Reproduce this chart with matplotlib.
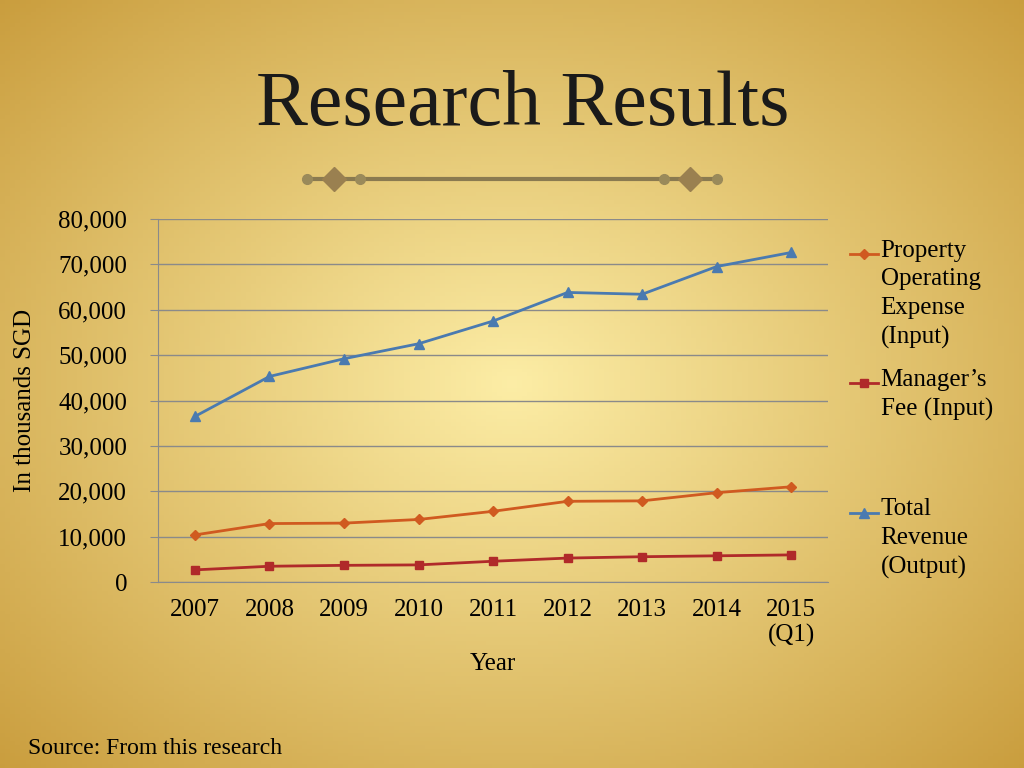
import numpy as np
import matplotlib
matplotlib.use("Agg")
import matplotlib.pyplot as plt
from matplotlib.lines import Line2D

years = ["2007", "2008", "2009", "2010", "2011", "2012", "2013", "2014", "2015\n(Q1)"]
poe = [10400, 12900, 13000, 13800, 15600, 17800, 17900, 19700, 21000]
mgr = [2700, 3500, 3700, 3800, 4600, 5300, 5600, 5800, 6000]
rev = [36500, 45300, 49200, 52500, 57500, 63800, 63400, 69500, 72600]
labels = ["Property\nOperating\nExpense\n(Input)", "Manager’s\nFee (Input)", "Total\nRevenue\n(Output)"]

plt.rcParams['font.family'] = ['Liberation Serif', 'DejaVu Serif']
fig = plt.figure(figsize=(10.24, 7.68), dpi=100)

bg = fig.add_axes([0, 0, 1, 1], zorder=-10)
yy, xx = np.mgrid[0:1:200j, 0:1:200j]
r = np.sqrt((xx - 0.5) ** 2 + (yy - 0.5) ** 2)
t = np.clip(r / 0.75, 0, 1)
c0 = np.array([0.99, 0.93, 0.65]); c1 = np.array([0.78, 0.60, 0.22])
img = c0 * (1 - t[..., None]) + c1 * t[..., None]
bg.imshow(img, extent=[0, 1, 0, 1], aspect='auto')
bg.axis('off')

fig.text(0.51, 0.862, "Research Results", ha='center', va='center', fontsize=56, color='#1a1a1a')
fig.add_artist(Line2D([0.30, 0.70], [0.767, 0.767], transform=fig.transFigure, color='#8a7a50', lw=3))
for xv in [0.30, 0.352, 0.648, 0.70]:
    fig.add_artist(Line2D([xv], [0.767], transform=fig.transFigure, marker='o', ms=7, color='#9a8a5a'))
for xv in [0.326, 0.674]:
    fig.add_artist(Line2D([xv], [0.767], transform=fig.transFigure, marker='D', ms=12, color='#9a8050'))

ax = fig.add_axes([0.154, 0.242, 0.655, 0.473])
ax.patch.set_alpha(0)
x = np.arange(len(years))
styles = [('#d05a20', 'D', 5), ('#b02a2a', 's', 6), ('#4a7ab0', '^', 7)]
for data, (c, m, ms) in zip([poe, mgr, rev], styles):
    ax.plot(x, data, color=c, marker=m, ms=ms, lw=2)
ax.set_xlim(-0.5, len(years) - 0.5)
ax.set_ylim(0, 80000)
ax.set_yticks(range(0, 80001, 10000))
ax.set_yticklabels([f"{v:,}" for v in range(0, 80001, 10000)], fontsize=18)
ax.set_xticks(x)
ax.set_xticklabels(years, fontsize=18)
ax.grid(axis='y', color='#8a8a8a', lw=1)
for s in ['top', 'right']:
    ax.spines[s].set_visible(False)
ax.spines['left'].set_color('#8a8a8a'); ax.spines['bottom'].set_color('#8a8a8a')
ax.tick_params(axis='x', length=0, pad=12)
ax.tick_params(axis='y', length=6, color='#8a8a8a', pad=16)
ax.set_xlabel("Year", fontsize=18, labelpad=4)
ax.set_ylabel("In thousands SGD", fontsize=18, labelpad=16)

ys = [0.669, 0.501, 0.332]
for yv, lab, (c, m, ms) in zip(ys, labels, styles):
    fig.add_artist(Line2D([0.830, 0.857], [yv, yv], transform=fig.transFigure, color=c, lw=2))
    fig.add_artist(Line2D([0.8435], [yv], transform=fig.transFigure, color=c, marker=m, ms=ms))
    fig.text(0.860, yv + 0.019, lab, fontsize=18, va='top', ha='left', linespacing=1.4)

fig.text(0.027, 0.018, "Source: From this research", fontsize=17)
fig.savefig("out.png", dpi=100)
